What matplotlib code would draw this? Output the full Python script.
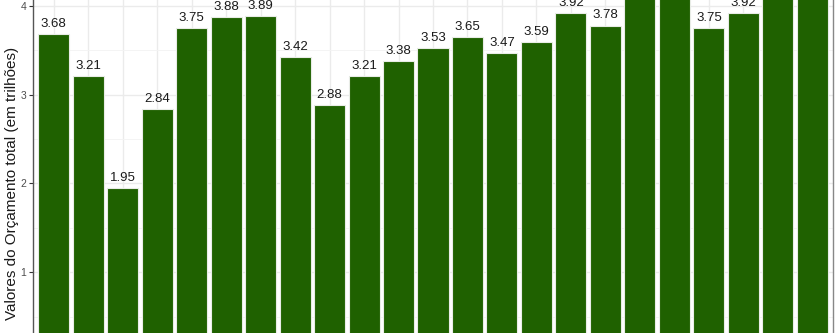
import matplotlib.pyplot as plt
import numpy as np

plt.rcParams['font.family'] = ['Liberation Sans', 'DejaVu Sans']

# valores do orçamento (trilhões) - os 4 mais altos saem cortados no recorte
valores = [3.68, 3.21, 1.95, 2.84, 3.75, 3.88, 3.89, 3.42, 2.88, 3.21, 3.38, 3.53,
           3.65, 3.47, 3.59, 3.92, 3.78, 4.25, 4.32, 3.75, 3.92, 4.38, 4.45]
rotulos = [f'{v:.2f}' for v in valores]
y_ticks = [1, 2, 3, 4]

fig = plt.figure(figsize=(8.4, 3.33), dpi=100)
ax = fig.add_axes([33 / 840, 0, 800 / 840, 1])

x = np.arange(1, len(valores) + 1)
ax.bar(x, valores, width=0.9, color='#1f6100', edgecolor='#e8ece6', linewidth=0.8, zorder=2)

for xi, v, r in zip(x, valores, rotulos):
    ax.annotate(r, (xi, v), xytext=(0, 3), textcoords='offset points',
                ha='center', va='bottom', fontsize=9.5, color='#1a1a1a', zorder=3)

ax.set_xlim(0.4, len(valores) + 0.6)
ax.set_ylim(0.314, 4.068)

ax.set_yticks(y_ticks)
ax.set_yticks([0.5, 1.5, 2.5, 3.5], minor=True)
ax.set_xticks(x)
ax.tick_params(axis='x', length=0, labelbottom=False)
ax.tick_params(axis='y', which='major', length=3, width=0.8, color='#333333',
               labelsize=7.5, labelcolor='#4d4d4d', pad=2)
ax.tick_params(axis='y', which='minor', length=0)

ax.grid(True, which='major', color='#ebebeb', linewidth=1.0, zorder=0)
ax.grid(True, which='minor', axis='y', color='#f3f3f3', linewidth=0.6, zorder=0)
ax.set_axisbelow(True)

ax.spines['top'].set_visible(False)
ax.spines['bottom'].set_visible(False)
ax.spines['left'].set_color('#555555')
ax.spines['right'].set_color('#888888')
ax.spines['left'].set_linewidth(1.0)
ax.spines['right'].set_linewidth(1.0)

fig.text(12 / 840, 1 - 183 / 333, 'Valores do Orçamento total (em trilhões)',
         rotation=90, ha='center', va='center', fontsize=11, color='#1a1a1a')

fig.savefig('out.png', dpi=100)
